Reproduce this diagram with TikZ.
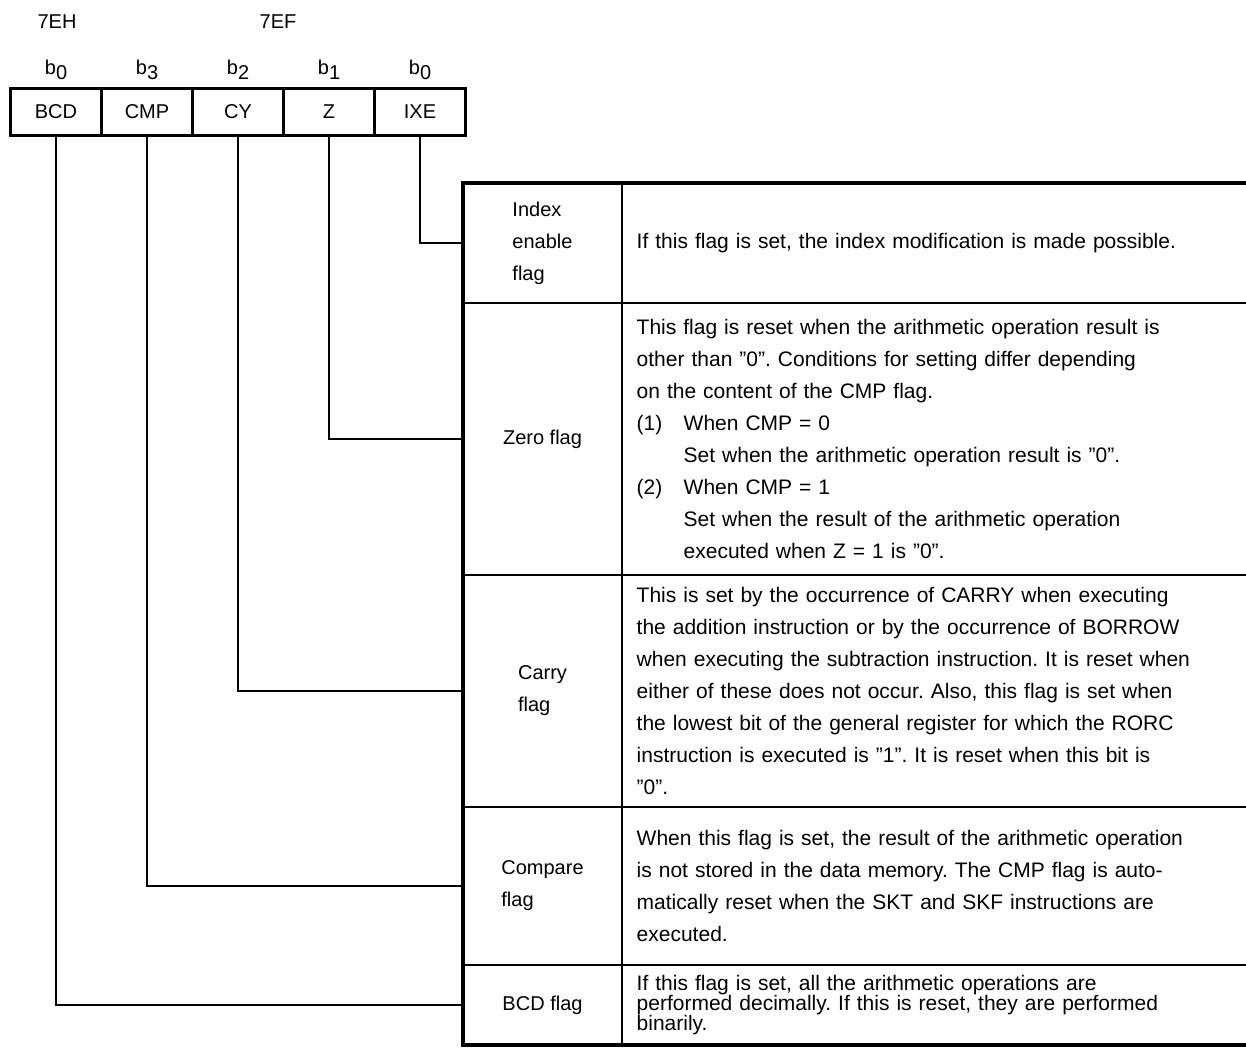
\documentclass[tikz,border=0pt]{standalone}
\usepackage{fontspec}
\setmainfont{Liberation Sans}
\usetikzlibrary{positioning}

% subscripted bit number
\newcommand{\bitlbl}[1]{b\raisebox{-0.45ex}{#1}}
% numbered item and its continuation in the zero flag row
\newcommand{\itemno}[1]{\makebox[23.5pt][l]{#1}}
\newcommand{\itemgap}{\hspace*{23.5pt}}

\frenchspacing

\begin{document}
\begin{tikzpicture}[
    x=0.5pt, y=-0.5pt,
    node distance=0pt,
    font=\fontsize{10}{16}\selectfont,
    regcell/.style={draw, line width=0.8pt, minimum width=44.7pt, minimum height=22.7pt, inner sep=0pt},
    namecell/.style={draw, line width=0.7pt, minimum width=78.8pt, align=left, inner sep=0pt},
    desccell/.style={draw, line width=0.7pt, text width=325pt, inner xsep=7pt, inner ysep=1pt, align=left,
      font=\fontsize{10.5}{16}\selectfont},
    wire/.style={line width=0.7pt},
    frame/.style={line width=1.8pt}
  ]

  \useasboundingbox (0,0) rectangle (1246,1048);
  \clip (0,0) rectangle (1246,1048);

  % ==================== REGISTER ====================

  \node (addrh) at (57,22) {7EH};
  \node (addrf) at (278,22) {7EF};

  \node (bcd) [regcell] at (56,112) {BCD};
  \node (cmp) [regcell, right=of bcd] {CMP};
  \node (cy)  [regcell, right=of cmp] {CY};
  \node (z)   [regcell, right=of cy] {Z};
  \node (ixe) [regcell, right=of z] {IXE};
  \draw[frame] (bcd.north west) rectangle (ixe.south east);

  \node (bitbcd) [above=1pt of bcd] {\bitlbl{0}};
  \node (bitcmp) [above=1pt of cmp] {\bitlbl{3}};
  \node (bitcy)  [above=1pt of cy] {\bitlbl{2}};
  \node (bitz)   [above=1pt of z] {\bitlbl{1}};
  \node (bitixe) [above=1pt of ixe] {\bitlbl{0}};

  % ==================== TABLE ====================

  \node (ixeflag) [namecell, minimum height=59.3pt, anchor=north west] at (463,183) {Index\\enable\\flag};
  \node (zflag)   [namecell, minimum height=135.3pt, below=of ixeflag] {Zero flag};
  \node (cyflag)  [namecell, minimum height=115.3pt, below=of zflag] {Carry\\flag};
  \node (cmpflag) [namecell, minimum height=78.3pt, below=of cyflag] {Compare\\flag};
  \node (bcdflag) [namecell, minimum height=39.3pt, below=of cmpflag] {BCD flag};

  \node (ixedesc) [desccell, minimum height=59.3pt, right=of ixeflag] {
    If this flag is set, the index modification is made possible.
  };
  \node (zdesc) [desccell, minimum height=135.3pt, right=of zflag] {
    This flag is reset when the arithmetic operation result is\\
    other than ''0''. Conditions for setting differ depending\\
    on the content of the CMP flag.\\
    \itemno{(1)}When CMP = 0\\
    \itemgap Set when the arithmetic operation result is ''0''.\\
    \itemno{(2)}When CMP = 1\\
    \itemgap Set when the result of the arithmetic operation\\
    \itemgap executed when Z = 1 is ''0''.
  };
  \node (cydesc) [desccell, minimum height=115.3pt, right=of cyflag] {
    This is set by the occurrence of CARRY when executing\\
    the addition instruction or by the occurrence of BORROW\\
    when executing the subtraction instruction. It is reset when\\
    either of these does not occur. Also, this flag is set when\\
    the lowest bit of the general register for which the RORC\\
    instruction is executed is ''1''. It is reset when this bit is\\
    ''0''.
  };
  \node (cmpdesc) [desccell, minimum height=78.3pt, right=of cmpflag] {
    When this flag is set, the result of the arithmetic operation\\
    is not stored in the data memory. The CMP flag is auto-\\
    matically reset when the SKT and SKF instructions are\\
    executed.
  };
  \node (bcddesc) [desccell, minimum height=39.3pt, right=of bcdflag, font=\fontsize{10.5}{10}\selectfont] {
    If this flag is set, all the arithmetic operations are\\
    performed decimally. If this is reset, they are performed\\
    binarily.
  };

  \draw[frame] (ixedesc.north east) -- (ixeflag.north west) -- (bcdflag.south west) -- (bcddesc.south east);

  % ==================== CONNECTORS ====================

  \draw[wire] (ixe.south) |- (ixeflag.west);
  \draw[wire] (z.south)   |- (zflag.west);
  \draw[wire] (cy.south)  |- (cyflag.west);
  \draw[wire] (cmp.south) |- (cmpflag.west);
  \draw[wire] (bcd.south) |- (bcdflag.west);

\end{tikzpicture}
\end{document}
